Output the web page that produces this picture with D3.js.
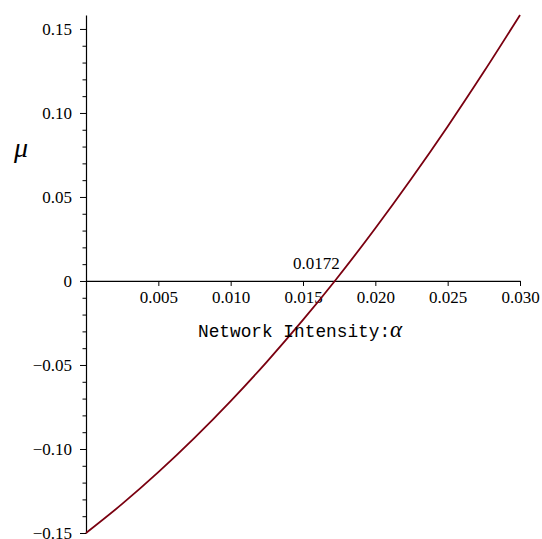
<!DOCTYPE html>
<html><head><meta charset="utf-8">
<script src="https://cdn.jsdelivr.net/npm/d3@7"></script>
<style>
body{margin:0;background:#fff}svg{display:block}
.serif{font-family:"Liberation Serif","Times New Roman",Times,serif}
.mono{font-family:"Liberation Mono","Courier New",monospace}
</style>
</head><body>
<svg id="c" width="542" height="539"></svg>
<script>
// Data
const alpha = [0, 0.0025, 0.005, 0.0075, 0.010, 0.0125, 0.015, 0.0172, 0.020, 0.0225, 0.025, 0.0275, 0.030];
const mu    = [-0.150, -0.1327, -0.1138, -0.0934, -0.0715, -0.0481, -0.0232, 0.0, 0.0314, 0.0610, 0.0920, 0.1245, 0.1583];
const xTicks = [0.005, 0.010, 0.015, 0.020, 0.025, 0.030];
const xTickLabels = ["0.005", "0.010", "0.015", "0.020", "0.025", "0.030"];
const yTicks = [-0.15, -0.10, -0.05, 0, 0.05, 0.10, 0.15];
const yTickLabels = ["\u22120.15", "\u22120.10", "\u22120.05", "0", "0.05", "0.10", "0.15"];
const rootValue = 0.0172;
const rootLabel = "0.0172";
const xTitle = "Network Intensity:";
const yTitle = "\u03bc";

const svg = d3.select("#c");
const x = d3.scaleLinear().domain([0, 0.030]).range([86, 520]);
const y = d3.scaleLinear().domain([-0.15, 0.1583]).range([533, 15]);

// y axis (major)
const yAxis = d3.axisLeft(y).tickValues(yTicks).tickSize(6).tickSizeOuter(0)
  .tickFormat((d, i) => yTickLabels[i]);
const gy = svg.append("g").attr("transform", `translate(${x(0)},0)`).call(yAxis)
  .attr("font-family", null).attr("font-size", null);
gy.select(".domain").attr("stroke", "#000").attr("stroke-width", 1.2);
gy.selectAll(".tick line").attr("stroke", "#000");
gy.selectAll(".tick text").attr("x", -14).attr("class", "serif").style("font-size", "17px").attr("fill", "#000");

// y axis (minor)
const minor = d3.range(-14, 15).filter(v => v % 5 !== 0).map(v => v / 100);
const gym = svg.append("g").attr("transform", `translate(${x(0)},0)`)
  .call(d3.axisLeft(y).tickValues(minor).tickSize(3.5).tickFormat(""));
gym.select(".domain").remove();
gym.selectAll(".tick line").attr("stroke", "#000");

// x axis at y = 0
const xAxis = d3.axisBottom(x).tickValues(xTicks).tickSize(5).tickSizeOuter(0)
  .tickFormat((d, i) => xTickLabels[i]);
const gx = svg.append("g").attr("transform", `translate(0,${y(0)})`).call(xAxis)
  .attr("font-family", null).attr("font-size", null);
gx.select(".domain").attr("stroke", "#000").attr("stroke-width", 1.2);
gx.selectAll(".tick line").attr("stroke", "#000");
gx.selectAll(".tick text").attr("y", 10).attr("class", "serif").style("font-size", "17px").attr("fill", "#000");

// curve
const line = d3.line().x((d, i) => x(alpha[i])).y(d => y(d)).curve(d3.curveMonotoneX);
svg.append("path").datum(mu).attr("d", line)
  .attr("fill", "none").attr("stroke", "#7a0010").attr("stroke-width", 1.8);

// root label
svg.append("text").attr("x", x(rootValue) + 5).attr("y", y(0) - 12).attr("class", "serif")
  .attr("text-anchor", "end").style("font-size", "17px").text(rootLabel);

// x title
const t = svg.append("text").attr("x", 198).attr("y", 337).attr("class", "mono")
  .style("font-size", "17.8px").attr("fill", "#000");
t.append("tspan").text(xTitle);
t.append("tspan").attr("class", "serif").style("font-style", "italic").style("font-size", "23px").text("\u03b1");

// y title
svg.append("text").attr("x", 21).attr("y", 157).attr("text-anchor", "middle").attr("class", "serif")
  .style("font-style", "italic").style("font-size", "28px").text(yTitle);
</script>
</body></html>
